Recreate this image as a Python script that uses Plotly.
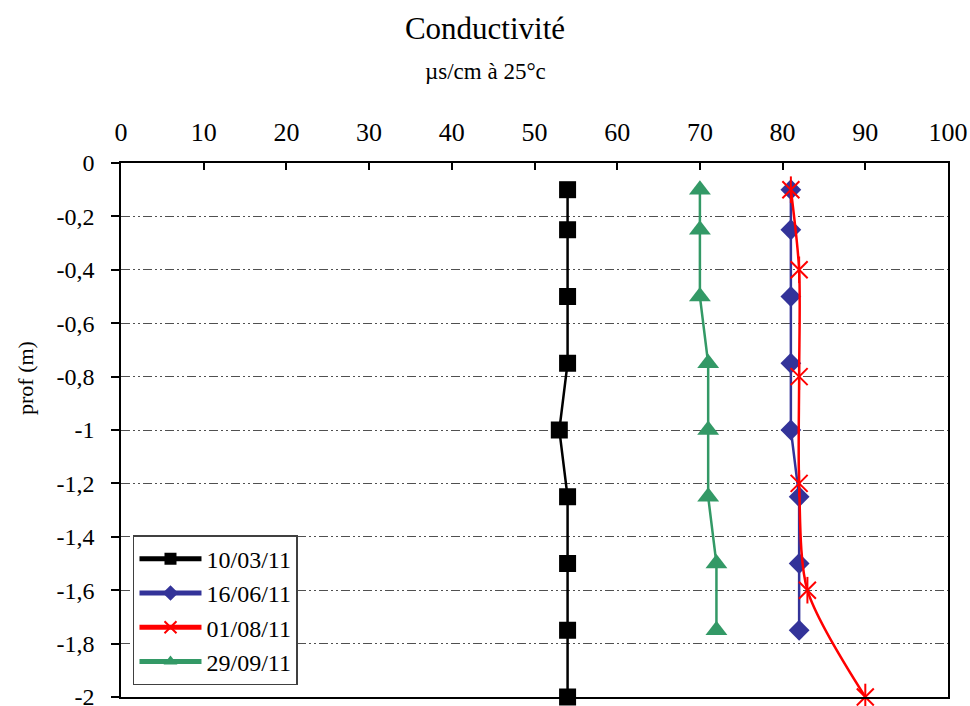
import plotly.graph_objects as go

# Data
depth_a = [-0.1, -0.25, -0.5, -0.75, -1.0, -1.25, -1.5, -1.75, -2.0]
cond_100311 = [54, 54, 54, 54, 53, 54, 54, 54, 54]

depth_b = [-0.1, -0.25, -0.5, -0.75, -1.0, -1.25, -1.5, -1.75]
cond_160611 = [81, 81, 81, 81, 81, 82, 82, 82]

depth_c = [-0.1, -0.4, -0.8, -1.2, -1.6, -2.0]
cond_010811 = [81, 82, 82, 82, 83, 90]

depth_d = [-0.1, -0.25, -0.5, -0.75, -1.0, -1.25, -1.5, -1.75]
cond_290911 = [70, 70, 70, 71, 71, 71, 72, 72]

y_tick_vals = [0, -0.2, -0.4, -0.6, -0.8, -1.0, -1.2, -1.4, -1.6, -1.8, -2.0]
y_tick_text = ["0", "-0,2", "-0,4", "-0,6", "-0,8", "-1", "-1,2", "-1,4", "-1,6", "-1,8", "-2"]
x_tick_vals = [0, 10, 20, 30, 40, 50, 60, 70, 80, 90, 100]

FONT = "Times New Roman, Liberation Serif, serif"

fig = go.Figure()

fig.add_trace(go.Scatter(
    x=cond_100311, y=depth_a, name="10/03/11", mode="lines+markers",
    line=dict(color="black", width=2.5),
    marker=dict(symbol="square", size=17, color="black"),
    cliponaxis=False, legendgroup="a"))

fig.add_trace(go.Scatter(
    x=cond_160611, y=depth_b, name="16/06/11", mode="lines+markers",
    line=dict(color="#333399", width=2.5),
    marker=dict(symbol="diamond", size=16, color="#333399"),
    cliponaxis=False, legendgroup="b"))

fig.add_trace(go.Scatter(
    x=cond_010811, y=depth_c, name="01/08/11", mode="lines+markers",
    line=dict(color="#ff0000", width=2.5, shape="spline", smoothing=0.8),
    marker=dict(symbol="x-thin-open", size=17, color="#ff0000",
                line=dict(color="#ff0000", width=2)),
    cliponaxis=False, legendgroup="c"))
fig.add_trace(go.Scatter(
    x=cond_010811, y=depth_c, name="01/08/11", mode="markers",
    marker=dict(symbol="line-ns-open", size=19, color="#ff0000",
                line=dict(color="#ff0000", width=2)),
    cliponaxis=False, showlegend=False, legendgroup="c", hoverinfo="skip"))

fig.add_trace(go.Scatter(
    x=cond_290911, y=depth_d, name="29/09/11", mode="lines+markers",
    line=dict(color="#339966", width=2.5),
    marker=dict(symbol="triangle-up", size=19, color="#339966"),
    cliponaxis=False, legendgroup="d"))

fig.update_layout(
    width=970, height=706,
    margin=dict(l=121, r=22, t=163, b=9),
    paper_bgcolor="white", plot_bgcolor="white",
    font=dict(family=FONT, color="black", size=20),
    title=dict(text="Conductivité", x=0.5, xref="container", xanchor="center",
               y=1 - 28 / 706, yref="container", yanchor="middle",
               font=dict(family=FONT, size=31, color="black")),
    showlegend=True,
    legend=dict(x=0.0145, y=0.303, xanchor="left", yanchor="top",
                bgcolor="white", bordercolor="#404040", borderwidth=1.5,
                font=dict(family=FONT, size=24, color="black"),
                itemsizing="constant", tracegroupgap=19,
                itemwidth=62, traceorder="normal"),
    annotations=[
        dict(text="µs/cm à 25°c", xref="paper", yref="paper",
             x=(485 - 121) / 827, y=(697 - 72) / 534, showarrow=False,
             xanchor="center", yanchor="middle",
             font=dict(family=FONT, size=23, color="black")),
        dict(text="prof (m)", xref="paper", yref="paper",
             x=(25 - 121) / 827, y=(697 - 378) / 534, showarrow=False,
             textangle=-90, xanchor="center", yanchor="middle",
             font=dict(family=FONT, size=22, color="black")),
    ],
)

fig.update_xaxes(
    side="top", range=[0, 100], tickvals=x_tick_vals,
    ticks="inside", ticklen=7, tickcolor="black", tickwidth=1.5,
    showline=True, linecolor="black", linewidth=1.5, mirror=True,
    showgrid=False, zeroline=False, ticklabelstandoff=10, automargin=False,
    tickfont=dict(family=FONT, size=26, color="black"),
)
fig.update_yaxes(
    range=[-2, 0], tickvals=y_tick_vals, ticktext=y_tick_text,
    ticks="outside", ticklen=8, tickcolor="black", tickwidth=1.5,
    showline=True, linecolor="black", linewidth=1.5, mirror=True,
    showgrid=True, gridcolor="#505050", gridwidth=1.2,
    griddash="9px,3px,2px,3px,2px,3px",
    zeroline=False, ticklabelstandoff=12, ticklabeloverflow="allow",
    automargin=False,
    tickfont=dict(family=FONT, size=24, color="black"),
)

fig.write_html("out.html")
